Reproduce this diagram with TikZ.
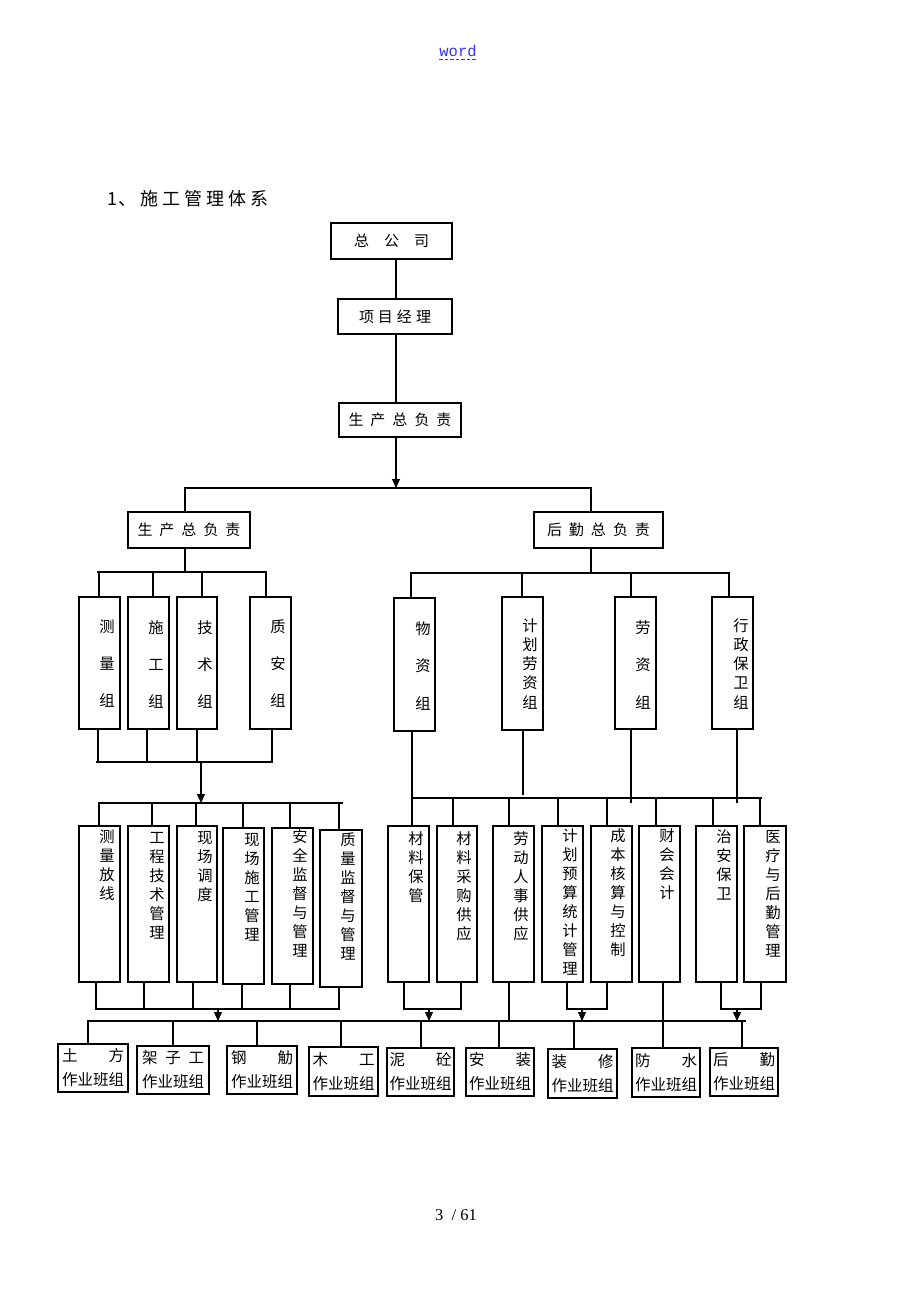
\documentclass[tikz,border=0pt]{standalone}
\usepackage{fontspec}
\newfontfamily\cjk{Noto Sans CJK SC}
\newfontfamily\monof{Liberation Mono}
\newfontfamily\serf{Liberation Serif}
\usetikzlibrary{arrows.meta,fit}
\definecolor{linkblue}{RGB}{50,50,255}
\tikzset{
  bx/.style={draw=black, line width=1.2pt, inner sep=0pt},
  tb/.style={bx, font=\cjk\fontsize{15}{18}\selectfont},
  bb/.style={bx, align=left, text width=62pt, execute at begin node=\setlength{\parindent}{0pt}, font=\cjk\fontsize{15.5}{24}\selectfont},
  vt/.style={inner sep=0pt, align=center, anchor=north},
  ln/.style={line width=1.1pt, line cap=rect},
  arr/.style={line width=1.1pt, -{Triangle[length=9pt,width=8pt]}},
}
\newcommand\vtx[5]{\node[vt, font=\cjk\fontsize{15.3}{#4}\selectfont] (#1) at (#2,#3) {#5};}
\newcommand\vdn[3]{\coordinate (tmpa) at (#1,#2); \draw[ln] (tmpa) -- (tmpa |- #3);}
\newcommand\harr[4]{\coordinate (#1s) at (#2,#3); \coordinate (#1e) at (#2,#4); \draw[arr] (#1s) -- (#1e);}
\begin{document}
\begin{tikzpicture}[x=1pt,y=-1pt]
\fill[white] (0,0) rectangle (920,1302);
\useasboundingbox (0,0) rectangle (920,1302);

% header and title
\node[inner sep=0pt, text=linkblue, font=\monof\fontsize{15.5}{17}\selectfont] (word) at (458,51) {word};
\draw[linkblue, line width=0.9pt, dash pattern=on 3.5pt off 2pt] ([yshift=-3pt]word.base west) -- ([yshift=-3pt]word.base east);
\node[anchor=west, inner sep=0pt, font=\cjk\fontsize{18}{20}\selectfont] (title) at (107,199) {1\hspace{1pt}、\hspace{4pt}施\hspace{4pt}工\hspace{4pt}管\hspace{4pt}理\hspace{4pt}体\hspace{4pt}系};
\node[inner sep=0pt, font=\serf\fontsize{16.5}{18}\selectfont] (pg) at (456,1215) {3\ \ / 61};

% top boxes
\node[tb, minimum width=121pt, minimum height=36pt] (zgs) at (391.5,241) {总\hspace{15pt}公\hspace{15pt}司};
\node[tb, minimum width=114pt, minimum height=35pt] (xmjl) at (395,316.5) {项\hspace{4pt}目\hspace{4pt}经\hspace{4pt}理};
\node[tb, minimum width=122pt, minimum height=34pt] (scz1) at (400,420) {生\hspace{7pt}产\hspace{7pt}总\hspace{7pt}负\hspace{7pt}责};
\node[tb, minimum width=122pt, minimum height=36pt] (scz2) at (189,530) {生\hspace{7pt}产\hspace{7pt}总\hspace{7pt}负\hspace{7pt}责};
\node[tb, minimum width=129pt, minimum height=36pt] (hqz) at (598.5,530) {后\hspace{7pt}勤\hspace{7pt}总\hspace{7pt}负\hspace{7pt}责};

% upper left group
\node[bx, fit={(79,597) (120,729)}] (cl) {};
\node[bx, fit={(128,597) (169,729)}] (sg) {};
\node[bx, fit={(177,597) (217,729)}] (js) {};
\node[bx, fit={(250,597) (291,729)}] (za) {};
\vtx{tcl}{107}{620}{37}{测\\量\\组}
\vtx{tsg}{156}{620}{37}{施\\工\\组}
\vtx{tjs}{205}{620}{37}{技\\术\\组}
\vtx{tza}{278}{620}{37}{质\\安\\组}

% upper right group
\node[bx, fit={(394,598) (435,731)}] (wz) {};
\node[bx, fit={(502,597) (543,730)}] (jhlz) {};
\node[bx, fit={(615,597) (656,729)}] (lz) {};
\node[bx, fit={(712,597) (753,729)}] (xzbw) {};
\vtx{twz}{423}{621}{37.5}{物\\资\\组}
\vtx{tjhlz}{530}{618}{19.3}{计\\划\\劳\\资\\组}
\vtx{tlz}{643}{620}{37.5}{劳\\资\\组}
\vtx{txzbw}{741}{618}{19.3}{行\\政\\保\\卫\\组}

% middle left
\node[bx, fit={(79,826) (120,982)}] (clfx) {};
\node[bx, fit={(128,826) (169,982)}] (gcjs) {};
\node[bx, fit={(177,826) (217,982)}] (xcdd) {};
\node[bx, fit={(223,828) (264,984)}] (xcsg) {};
\node[bx, fit={(272,828) (313,984)}] (aqjd) {};
\node[bx, fit={(320,830) (362,987)}] (zljd) {};
\vtx{tclfx}{107}{830}{19}{测\\量\\放\\线}
\vtx{tgcjs}{157}{832}{19}{工\\程\\技\\术\\管\\理}
\vtx{txcdd}{205}{831}{19}{现\\场\\调\\度}
\vtx{txcsg}{252}{833}{19}{现\\场\\施\\工\\管\\理}
\vtx{taqjd}{300}{829}{19}{安\\全\\监\\督\\与\\管\\理}
\vtx{tzljd}{348}{833}{19}{质\\量\\监\\督\\与\\管\\理}

% middle right
\node[bx, fit={(388,826) (429,982)}] (clbg) {};
\node[bx, fit={(437,826) (477,982)}] (clcg) {};
\node[bx, fit={(493,826) (534,982)}] (ldrs) {};
\node[bx, fit={(542,826) (583,982)}] (jhys) {};
\node[bx, fit={(591,826) (632,982)}] (cbhs) {};
\node[bx, fit={(639,826) (680,982)}] (chkj) {};
\node[bx, fit={(696,826) (737,982)}] (zabw) {};
\node[bx, fit={(744,826) (786,982)}] (ylhq) {};
\vtx{tclbg}{416}{831}{19}{材\\料\\保\\管}
\vtx{tclcg}{464}{831}{19}{材\\料\\采\\购\\供\\应}
\vtx{tldrs}{521}{831}{19}{劳\\动\\人\\事\\供\\应}
\vtx{tjhys}{570}{828}{19}{计\\划\\预\\算\\统\\计\\管\\理}
\vtx{tcbhs}{618}{828}{19}{成\\本\\核\\算\\与\\控\\制}
\vtx{tchkj}{667}{828}{19}{财\\会\\会\\计}
\vtx{tzabw}{724}{829}{19}{治\\安\\保\\卫}
\vtx{tylhq}{773}{830}{19}{医\\疗\\与\\后\\勤\\管\\理}

% bottom row
\node[bb, minimum width=70pt, minimum height=48pt] (tf) at (93,1068) {土\hfill 方\\作业班组};
\node[bb, minimum width=72pt, minimum height=48pt] (jzg) at (173,1070) {架\hfill 子\hfill 工\\作业班组};
\node[bb, minimum width=70pt, minimum height=48pt] (gj) at (262,1070) {钢\hfill 觔\\作业班组};
\node[bb, minimum width=69pt, minimum height=49pt] (mg) at (343.5,1071.5) {木\hfill 工\\作业班组};
\node[bb, minimum width=67pt, minimum height=48pt] (nt) at (420.5,1072) {泥\hfill 砼\\作业班组};
\node[bb, minimum width=68pt, minimum height=48pt] (az) at (500,1072) {安\hfill 装\\作业班组};
\node[bb, minimum width=69pt, minimum height=49pt] (zx) at (582.5,1073.5) {装\hfill 修\\作业班组};
\node[bb, minimum width=68pt, minimum height=49pt] (fx) at (666,1072.5) {防\hfill 水\\作业班组};
\node[bb, minimum width=68pt, minimum height=48pt] (hq) at (744,1072) {后\hfill 勤\\作业班组};

% ---- connectors ----
\coordinate (c396) at (396,0);
\draw[ln] (c396 |- zgs.south) -- (c396 |- xmjl.north);
\draw[ln] (c396 |- xmjl.south) -- (c396 |- scz1.north);
\coordinate (b1) at (396,488);
\draw[arr] (c396 |- scz1.south) -- (b1);
\coordinate (b1l) at (185,488); \coordinate (b1r) at (591,488);
\draw[ln] (b1l |- scz2.north) -- (b1l) -- (b1r) -- (b1r |- hqz.north);

% left group
\coordinate (b2c) at (185,572);
\draw[ln] (b2c |- scz2.south) -- (b2c);
\coordinate (b2a) at (98,572); \coordinate (b2b) at (266,572);
\draw[ln] (b2a) -- (b2b);
\vdn{99}{572}{cl.north} \vdn{153}{572}{sg.north} \vdn{202}{572}{js.north} \vdn{266}{572}{za.north}
\coordinate (b3a) at (97,762); \coordinate (b3b) at (272,762);
\draw[ln] (b3a) -- (b3b);
\vdn{98}{762}{cl.south} \vdn{147}{762}{sg.south} \vdn{197}{762}{js.south} \vdn{272}{762}{za.south}
\harr{a1}{201}{762}{803}
\coordinate (b4a) at (99,803); \coordinate (b4b) at (342,803);
\draw[ln] (b4a) -- (b4b);
\vdn{99}{803}{clfx.north} \vdn{152}{803}{gcjs.north} \vdn{196}{803}{xcdd.north} \vdn{243}{803}{xcsg.north} \vdn{290}{803}{aqjd.north} \vdn{339}{803}{zljd.north}
\coordinate (b5a) at (96,1009); \coordinate (b5b) at (339,1009);
\draw[ln] (b5a) -- (b5b);
\vdn{96}{1009}{clfx.south} \vdn{144}{1009}{gcjs.south} \vdn{193}{1009}{xcdd.south} \vdn{242}{1009}{xcsg.south} \vdn{290}{1009}{aqjd.south} \vdn{339}{1009}{zljd.south}
\harr{a2}{218}{1009}{1021}

% right group
\coordinate (b6c) at (591,573);
\draw[ln] (b6c |- hqz.south) -- (b6c);
\coordinate (b6a) at (412,573); \coordinate (b6b) at (729,573);
\draw[ln] (b6a) -- (b6b);
\vdn{411}{573}{wz.north} \vdn{522}{573}{jhlz.north} \vdn{631}{573}{lz.north} \vdn{729}{573}{xzbw.north}
\coordinate (c412) at (412,0);
\draw[ln] (c412 |- wz.south) -- (c412 |- clbg.north);
\vdn{523}{794}{jhlz.south}
\vdn{631}{802}{lz.south}
\vdn{737}{802}{xzbw.south}
\coordinate (b7a) at (412,798); \coordinate (b7b) at (761,798);
\draw[ln] (b7a) -- (b7b);
\vdn{453}{798}{clcg.north} \vdn{509}{798}{ldrs.north} \vdn{558}{798}{jhys.north} \vdn{607}{798}{cbhs.north} \vdn{656}{798}{chkj.north} \vdn{713}{798}{zabw.north} \vdn{760}{798}{ylhq.north}

\vdn{404}{1009}{clbg.south} \vdn{461}{1009}{clcg.south}
\coordinate (b8a) at (404,1009); \coordinate (b8b) at (461,1009);
\draw[ln] (b8a) -- (b8b);
\harr{a3}{429}{1009}{1021}
\vdn{509}{1021}{ldrs.south}
\vdn{567}{1009}{jhys.south} \vdn{607}{1009}{cbhs.south}
\coordinate (b9a) at (567,1009); \coordinate (b9b) at (607,1009);
\draw[ln] (b9a) -- (b9b);
\harr{a4}{582}{1009}{1021}
\coordinate (c663) at (663,0);
\draw[ln] (c663 |- chkj.south) -- (c663 |- fx.north);
\vdn{721}{1009}{zabw.south} \vdn{761}{1009}{ylhq.south}
\coordinate (b10a) at (721,1009); \coordinate (b10b) at (761,1009);
\draw[ln] (b10a) -- (b10b);
\harr{a5}{737}{1009}{1021}

% bottom bus
\coordinate (b11a) at (88,1021); \coordinate (b11b) at (745,1021);
\draw[ln] (b11a) -- (b11b);
\vdn{88}{1021}{tf.north} \vdn{173}{1021}{jzg.north} \vdn{257}{1021}{gj.north} \vdn{341}{1021}{mg.north} \vdn{421}{1021}{nt.north} \vdn{499}{1021}{az.north} \vdn{574}{1021}{zx.north} \vdn{742}{1021}{hq.north}
\end{tikzpicture}
\end{document}
